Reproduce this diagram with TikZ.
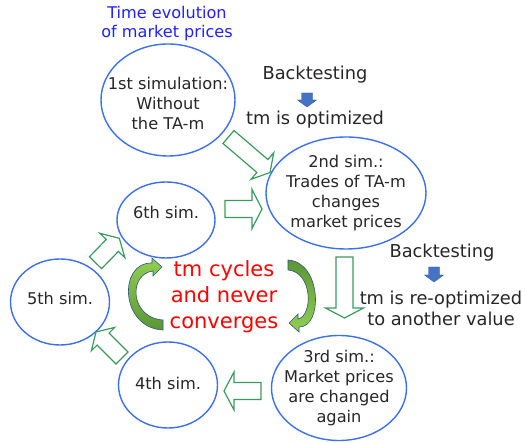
\documentclass[tikz,border=0pt]{standalone}
\usepackage{fontspec}
\setmainfont{DejaVu Sans}
\usetikzlibrary{calc,shapes.geometric}
\definecolor{simblue}{HTML}{3D6FEA}
\definecolor{titleblue}{HTML}{2020FF}
\definecolor{flowgreen}{HTML}{3A9A5E}
\definecolor{btblue}{HTML}{4472C4}
\definecolor{cycdark}{HTML}{5B9634}
\definecolor{cyclight}{HTML}{92D050}
\definecolor{cycedge}{HTML}{2F528F}

% hollow block arrow: style, tail, tip, half shaft, half head, head length
\newcommand\blockarrow[6]{%
  \coordinate (hb) at ($(#3)!#6!(#2)$);
  \draw[#1] ($(#2)!#4!90:(#3)$) -- ($(hb)!#4!-90:(#2)$) -- ($(hb)!#5!-90:(#2)$)
    -- (#3) -- ($(hb)!#5!90:(#2)$) -- ($(hb)!#4!90:(#2)$) -- ($(#2)!#4!-90:(#3)$) -- cycle;}

\begin{document}
\begin{tikzpicture}[x=1pt,y=-1pt,
    sim/.style={ellipse,draw=simblue,line width=1.4pt,inner sep=0pt},
    simtext/.style={align=center,inner sep=0pt,text=black!85,font=\fontsize{16.2}{20}\selectfont},
    note/.style={align=center,inner sep=0pt,text=black!85,font=\fontsize{17.8}{21}\selectfont},
    flow/.style={draw=flowgreen,line width=1.2pt,fill=white,line join=miter},
    bt/.style={fill=btblue,draw=btblue!80!black,line width=0.4pt},
    cyc/.style={draw=cycedge,line width=0.6pt}]
  \path[use as bounding box] (0,0) rectangle (525,443);

  \node[align=center,text=titleblue,font=\fontsize{16.1}{19}\selectfont] (title) at (167,24) {Time evolution\\of market prices};

  % simulations
  \node[sim,minimum width=134,minimum height=112,label={[simtext,yshift=-3pt]center:{1st simulation:\\Without\\the TA-m}}] (s1) at (168,100) {};
  \node[sim,minimum width=160,minimum height=112,label={[simtext]center:{2nd sim.:\\Trades of TA-m\\changes\\market prices}}] (s2) at (346,193) {};
  \node[sim,minimum width=135,minimum height=105,label={[simtext]center:{3rd sim.:\\Market prices\\are changed\\again}}] (s3) at (339,388) {};
  \node[sim,minimum width=99,minimum height=86,label={[simtext,yshift=2pt]center:{4th sim.}}] (s4) at (168,385) {};
  \node[sim,minimum width=99,minimum height=86,label={[simtext,yshift=4pt]center:{5th sim.}}] (s5) at (60,302) {};
  \node[sim,minimum width=98,minimum height=76,label={[simtext,yshift=8pt]center:{6th sim.}}] (s6) at (166,220) {};

  % backtesting notes
  \node[note] (bt1) at (315,75) {Backtesting};
  \node[note] (opt1) at (315,120) {tm is optimized};
  \node[note] (bt2) at (442,253) {Backtesting};
  \node[note] (opt2) at (441,308) {tm is re-optimized\\to another value};
  \coordinate (bt1t) at (307,93);
  \coordinate (bt1h) at (307,107);
  \coordinate (bt2t) at (434,267);
  \coordinate (bt2h) at (434,282);
  \blockarrow{bt}{bt1t}{bt1h}{5.5pt}{9.5pt}{7pt}
  \blockarrow{bt}{bt2t}{bt2h}{5.5pt}{9.5pt}{7pt}

  % flow between simulations
  \coordinate (f12t) at (228.5,137);  \coordinate (f12h) at (270,172.5);
  \coordinate (f62t) at (225,209);    \coordinate (f62h) at (262,209);
  \coordinate (f23t) at (344.5,257);  \coordinate (f23h) at (344.5,318);
  \coordinate (f34t) at (261,391);    \coordinate (f34h) at (224,391);
  \coordinate (f45t) at (122,358);    \coordinate (f45h) at (96,332);
  \coordinate (f56t) at (95.5,262.7); \coordinate (f56h) at (119.3,238.3);
  \blockarrow{flow}{f12t}{f12h}{8.5pt}{17.5pt}{10pt}
  \blockarrow{flow}{f62t}{f62h}{8.5pt}{19.5pt}{10pt}
  \blockarrow{flow}{f23t}{f23h}{8.5pt}{19pt}{10pt}
  \blockarrow{flow}{f34t}{f34h}{8.5pt}{19pt}{10pt}
  \blockarrow{flow}{f45t}{f45h}{8.5pt}{16.5pt}{10pt}
  \blockarrow{flow}{f56t}{f56h}{8.5pt}{17.5pt}{10pt}

  % the cycle
  \node[align=center,text=red,inner sep=0pt,font=\fontsize{21}{26}\selectfont] (cyc) at (224,297) {tm cycles\\and never\\converges};
  \path[cyc,top color=cyclight,bottom color=cycdark] (163,330) .. controls (120,328) and (118,262) .. (152,263)
    -- (152,258) -- (162,267) -- (153,276) -- (153,271)
    .. controls (128,274) and (130,318) .. (163,320) -- cycle;
  \path[cyc,top color=cycdark,bottom color=cyclight] (288,260) .. controls (322,262) and (323,328) .. (299,327)
    -- (299,332) -- (289,323) -- (298,314) -- (298,319)
    .. controls (313,316) and (313,272) .. (288,270) -- cycle;
\end{tikzpicture}
\end{document}
